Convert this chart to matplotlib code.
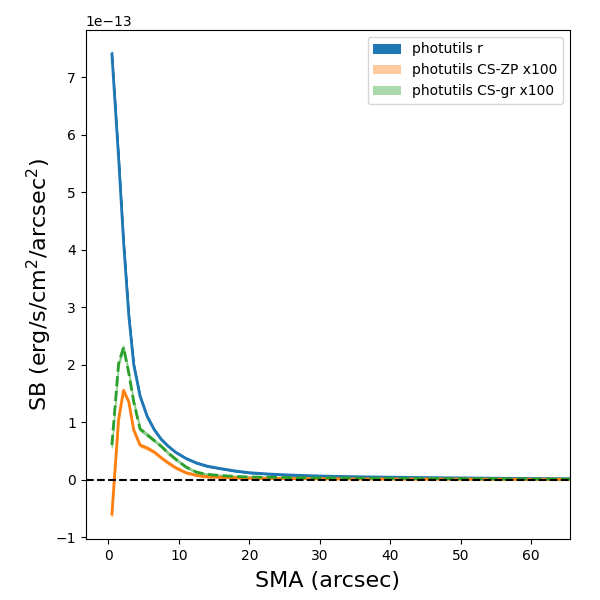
import matplotlib
matplotlib.use("Agg")
import matplotlib.pyplot as plt
from matplotlib.patches import Patch
import numpy as np

# semi-major axis (arcsec) and surface brightness profiles (units of 1e-13)
sma = [0.5, 1.45, 2.15, 2.9, 3.6, 4.5, 5.5, 6.5, 7.5, 8.5, 9.5, 11, 12.5, 14,
       16, 18, 20, 23, 26, 30, 35, 40, 45, 50, 55, 60, 67]
sb_r = [7.4, 5.6, 4.15, 2.85, 2.0, 1.45, 1.1, 0.87, 0.7, 0.58, 0.48, 0.37, 0.29, 0.235,
        0.19, 0.15, 0.12, 0.095, 0.078, 0.062, 0.05, 0.042, 0.035, 0.029, 0.024, 0.019, 0.014]
sb_zp = [-0.6, 1.05, 1.55, 1.35, 0.86, 0.6, 0.55, 0.48, 0.38, 0.29, 0.21, 0.12, 0.075, 0.05,
         0.04, 0.03, 0.025, 0.02, 0.018, 0.015, 0.012, 0.01, 0.009, 0.008, 0.007, 0.006, 0.005]
sb_gr = [0.6, 2.02, 2.3, 1.85, 1.35, 0.88, 0.78, 0.68, 0.58, 0.46, 0.36, 0.22, 0.13, 0.09,
         0.07, 0.055, 0.045, 0.04, 0.035, 0.03, 0.026, 0.022, 0.019, 0.016, 0.013, 0.011, 0.009]
err_r = [0.04, 0.04, 0.03, 0.03, 0.02, 0.02, 0.02, 0.015, 0.015, 0.01, 0.01, 0.01, 0.01, 0.01,
         0.008, 0.008, 0.008, 0.006, 0.006, 0.006, 0.005, 0.005, 0.005, 0.005, 0.005, 0.005, 0.005]
err_cs = [0.04, 0.04, 0.035, 0.03, 0.03, 0.025, 0.025, 0.02, 0.02, 0.02, 0.02, 0.015, 0.015, 0.015,
          0.012, 0.012, 0.012, 0.01, 0.01, 0.01, 0.01, 0.01, 0.01, 0.01, 0.01, 0.01, 0.01]

scale = 1e-13
x = np.array(sma)
r = np.array(sb_r) * scale
zp = np.array(sb_zp) * scale
gr = np.array(sb_gr) * scale
er = np.array(err_r) * scale
ec = np.array(err_cs) * scale

fig, ax = plt.subplots(figsize=(6, 6), dpi=100)
fig.subplots_adjust(left=0.143, right=0.95, top=0.95, bottom=0.102)

ax.fill_between(x, r - er, r + er, color="C0", alpha=1.0)
ax.plot(x, r, color="C0", lw=2)
ax.fill_between(x, zp - ec, zp + ec, color="C1", alpha=0.4)
ax.plot(x, zp, color="C1", lw=2)
ax.fill_between(x, gr - ec, gr + ec, color="C2", alpha=0.4)
ax.plot(x, gr, color="C2", lw=2, ls="--")
ax.axhline(0, color="k", ls="--", lw=1.5)

ax.set_xlim(-3.2, 65.5)
ax.set_ylim(-1.03e-13, 7.82e-13)
ax.set_xlabel("SMA (arcsec)", fontsize=16, labelpad=6)
ax.set_ylabel("SB (erg/s/cm$^2$/arcsec$^2$)", fontsize=16, labelpad=1)

handles = [Patch(facecolor="C0", alpha=1.0),
           Patch(facecolor="C1", alpha=0.4),
           Patch(facecolor="C2", alpha=0.4)]
labels = ["photutils r", "photutils CS-ZP x100", "photutils CS-gr x100"]
ax.legend(handles, labels, loc="upper right")

fig.savefig("out.png")
